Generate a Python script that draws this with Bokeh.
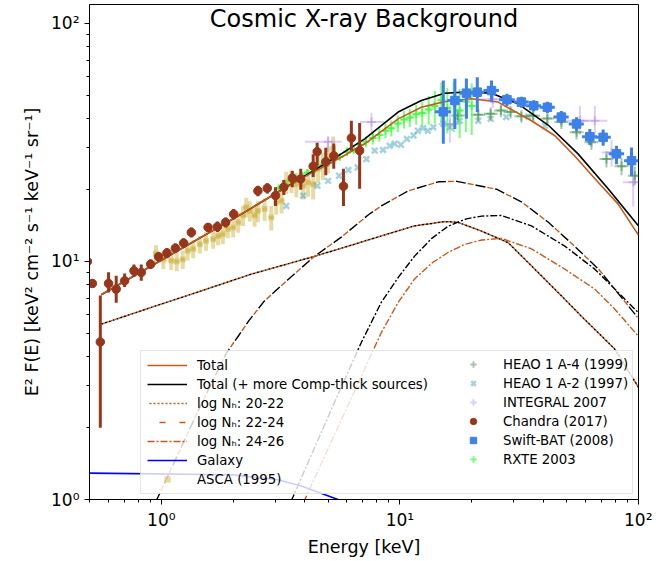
import numpy as np
from bokeh.plotting import figure
from bokeh.models import Legend, LegendItem, Label
from bokeh.embed import file_html
from bokeh.resources import INLINE

FONT = "DejaVu Sans"
X_RANGE = (0.5, 100)
Y_RANGE = (1, 120)
TITLE = "Cosmic X-ray Background"
X_LABEL = "Energy [keV]"
Y_LABEL = "E\u00b2 F(E) [keV\u00b2 cm\u207b\u00b2 s\u207b\u00b9 keV\u207b\u00b9 sr\u207b\u00b9]"
TICK_LABELS = {1: "10\u2070", 10: "10\u00b9", 100: "10\u00b2"}

# ---------------- model curves ----------------
total_E = [0.56, 2.165, 2.99, 4.12, 5.68, 7.12, 9.83, 12.3, 15.4, 19.9, 25.8, 35.6, 44.5, 53.9, 67.7, 82.2, 100]
total_F = [7.24, 15.8, 19.2, 23.1, 27.4, 31.2, 39.7, 44.4, 46.9, 48.2, 46.7, 39.0, 33.8, 27.8, 21.5, 17.4, 12.9]

totalCT_E = [0.56, 2.165, 2.99, 4.12, 5.68, 7.12, 9.83, 12.3, 15.4, 18.7, 24.2, 31.3, 41.8, 55.8, 74.6, 100]
totalCT_F = [7.24, 15.8, 19.2, 23.3, 28.3, 32.7, 42.4, 47.4, 50.9, 51.4, 50.9, 45.9, 37.4, 28.3, 20.2, 14.1]

nh2022_E = [0.56, 0.908, 1.47, 2.38, 4.38, 6.26, 8.36, 11.5, 15.4, 17.5, 22.0, 28.4, 35.6, 46.0, 57.5, 79.6, 100]
nh2022_F = [5.45, 6.41, 7.52, 8.84, 10.5, 11.7, 12.8, 14.1, 14.7, 14.6, 13.4, 12.0, 9.58, 7.41, 5.9, 4.28, 2.96]

nh2224_E = [0.8, 0.971, 1.47, 1.87, 2.10, 2.32, 2.70, 3.41, 4.38, 5.68, 7.38, 8.36, 10.85, 14.5, 17.3, 20.9,
            25.4, 32.3, 41.9, 53.9, 68.0, 99.0]
nh2224_F = [0.69, 1.03, 2.51, 4.11, 4.85, 5.61, 6.81, 8.42, 10.5, 12.65, 15.7, 17.1, 19.8, 21.6, 21.7, 20.9,
            20.1, 17.8, 14.6, 11.6, 9.28, 5.83]

nh2426CT_E = [3.0, 3.57, 5.16, 6.90, 8.36, 9.86, 11.5, 13.6, 16.0, 19.0, 22.0, 26.6, 35.6, 49.1, 65.6, 79.6, 99.7]
nh2426CT_F = [0.70, 1.03, 2.39, 4.58, 6.74, 8.59, 10.5, 12.5, 14.1, 15.1, 15.5, 15.6, 14.1, 11.6, 9.28, 7.65, 6.10]

nh2426_E = [3.4, 4.05, 8.36, 9.83, 11.5, 13.6, 15.9, 18.7, 22.0, 26.6, 35.6, 49.1, 65.6, 79.6, 99.7]
nh2426_F = [0.69, 1.03, 5.03, 6.72, 8.42, 9.84, 10.9, 11.8, 12.3, 12.5, 11.3, 9.28, 7.65, 6.30, 4.86]

galaxy_E = [0.5, 1.97, 3.08, 3.86, 5.5, 7.0]
galaxy_F = [1.29, 1.27, 1.21, 1.14, 1.0, 0.85]

# ---------------- data ----------------
asca_E = [0.95, 1.02, 1.10, 1.16, 1.23, 1.29, 1.36, 1.45, 1.54, 1.65, 1.73, 1.81, 1.90, 2.00, 2.10, 2.20, 2.27,
          2.35, 2.46, 2.54, 2.71, 2.89, 3.03, 3.19, 3.34, 3.51, 3.68, 3.93, 4.12, 4.33, 4.54, 4.76, 5.00, 5.25]
asca_F = [10.8, 10.2, 10.1, 10.0, 10.2, 11.1, 11.3, 11.8, 12.2, 12.4, 12.8, 13.0, 13.7, 13.9, 14.6, 15.6, 16.9,
          16.3, 15.6, 16.3, 16.6, 15.3, 17.7, 18.0, 21.5, 21.8, 21.1, 20.8, 21.5, 21.1, 24.5, 25.3, 26.9, 29.7]
asca_Ferr = [0.9, 0.9, 0.9, 0.9, 0.9, 1.0, 1.0, 1.0, 1.1, 1.1, 1.1, 1.2, 1.2, 1.3, 1.4, 1.5, 1.6,
             1.6, 1.6, 1.7, 1.8, 1.8, 2.0, 2.1, 2.3, 2.4, 2.5, 2.6, 2.8, 2.9, 3.1, 3.3, 3.5, 3.8]

heao_a2_E = [3.34, 3.93, 4.51, 5.00, 5.56, 6.08, 6.65, 7.24, 7.84, 8.50, 9.06, 9.51, 10.1, 10.7, 11.4, 11.9,
             12.5, 13.1, 13.8, 15.2, 16.2, 17.8, 21.3, 24.0, 27.9, 34.5, 40.5]
heao_a2_F = [17.1, 18.9, 20.8, 21.8, 22.9, 24.2, 24.8, 26.9, 29.2, 29.4, 30.6, 31.2, 30.9, 32.7, 33.8, 35.4,
             36.3, 35.4, 36.6, 37.8, 36.6, 39.0, 39.0, 39.7, 40.4, 40.6, 37.1]

heao_a4_E = [17.5, 21.3, 24.0, 26.5, 29.1, 32.3, 36.2, 41.5, 47.5, 55.0, 63.5, 73.4, 84.9, 96.5]
heao_a4_F = [41.0, 41.3, 41.7, 43.0, 42.4, 40.7, 40.9, 39.8, 38.5, 34.9, 31.7, 26.9, 25.1, 22.9]
heao_a4_Ferr = [2.6, 2.6, 2.6, 2.6, 2.6, 2.5, 2.5, 2.5, 2.5, 2.4, 2.3, 2.1, 2.1, 2.0]
heao_a4_Elo = [16.4, 19.9, 22.5, 24.8, 27.2, 30.2, 33.8, 38.8, 44.4, 51.4, 59.3, 68.6, 79.3, 90.2]
heao_a4_Ehi = [18.7, 22.8, 25.7, 28.4, 31.1, 34.6, 38.7, 44.4, 50.8, 58.9, 67.9, 78.5, 90.8, 103.3]

integral_E = [5.0, 7.6, 16.2, 24.5, 56.8, 65.6, 77.1, 95.0]
integral_F = [31.8, 38.5, 37.8, 48.0, 39.0, 39.0, 28.7, 21.5]
integral_Elo = [4.0, 6.8, 14.5, 21.0, 50.0, 58.0, 70.0, 86.0]
integral_Ehi = [5.7, 8.6, 18.0, 28.0, 62.0, 74.0, 84.0, 105.0]
integral_Flo = [28.8, 35.0, 31.5, 44.0, 34.0, 34.0, 25.0, 17.0]
integral_Fhi = [33.6, 42.0, 45.0, 52.0, 45.0, 45.0, 32.5, 26.0]

chandra_E = [0.49, 0.514, 0.555, 0.601, 0.647, 0.702, 0.768, 0.824, 0.902, 0.974, 1.056, 1.145, 1.24, 1.336,
             1.57, 1.718, 1.861, 2.01, 2.54, 2.78, 3.01, 3.26, 3.54, 3.84, 4.33, 4.50, 4.89, 5.28, 5.80, 6.26, 6.78]
chandra_F = [10.0, 8.08, 4.59, 8.08, 7.65, 8.29, 9.13, 8.99, 9.74, 10.46, 10.84, 11.37, 11.94, 13.24,
             13.9, 13.98, 14.59, 15.8, 19.8, 20.3, 18.9, 20.5, 22.4, 22.2, 25.1, 28.9, 26.2, 27.8, 20.7, 33.0, 29.2]
chandra_Flo = [9.0, 7.8, 2.0, 7.4, 6.7, 7.8, 8.6, 8.3, 9.3, 10.0, 10.3, 10.9, 11.4, 12.6,
               13.3, 13.3, 13.9, 15.0, 18.8, 19.3, 17.1, 19.0, 20.5, 20.0, 22.6, 25.3, 23.0, 24.5, 17.1, 29.2, 20.2]
chandra_Fhi = [11.0, 8.4, 7.2, 9.0, 8.7, 8.9, 9.7, 9.7, 10.2, 10.9, 11.4, 11.9, 12.5, 13.9,
               14.5, 14.7, 15.3, 16.6, 20.8, 21.3, 20.5, 22.0, 24.0, 24.5, 28.2, 31.5, 30.0, 31.3, 24.5, 39.0, 38.1]

swift_E = [15.2, 17.0, 19.0, 21.1, 24.2, 28.1, 32.3, 36.4, 41.5, 47.5, 55.0, 62.5, 71.1, 80.9, 93.5]
swift_F = [42.5, 47.4, 50.9, 51.4, 52.2, 47.8, 46.7, 45.1, 44.4, 40.4, 37.8, 33.4, 33.2, 28.3, 26.5]
swift_Flo = [31.2, 36.0, 39.7, 42.4, 46.6, 45.0, 44.2, 42.7, 42.0, 38.0, 35.3, 30.8, 30.6, 25.6, 22.9]
swift_Fhi = [57.5, 58.5, 58.5, 59.4, 57.6, 50.6, 49.2, 47.5, 46.8, 42.8, 40.3, 36.0, 35.8, 30.6, 30.1]
swift_Elo = [14.0, 15.8, 17.8, 19.8, 22.4, 26.0, 30.0, 33.8, 38.5, 44.0, 51.0, 58.0, 66.0, 75.0, 87.0]
swift_Ehi = [16.4, 18.3, 20.4, 22.6, 26.0, 30.3, 34.7, 39.0, 44.6, 51.0, 59.0, 67.0, 76.5, 87.0, 100.0]

rxte_E = [3.1, 3.3, 3.5, 3.7, 3.9, 4.1, 4.4, 4.7, 5.0, 5.3, 5.6, 6.0, 6.4, 6.8, 7.2, 7.7, 8.2, 8.7, 9.2, 9.8,
          10.4, 11.0, 11.7, 12.4, 13.2, 14.0, 14.9, 15.8, 16.8, 17.8, 18.9, 20.0]
rxte_F = [20.3, 21.0, 21.8, 22.2, 22.9, 23.6, 24.3, 25.3, 26.0, 26.9, 27.5, 28.9, 29.6, 30.9, 31.8, 33.0, 34.0,
          35.4, 36.3, 38.0, 39.5, 40.2, 41.5, 42.0, 43.5, 45.0, 47.5, 44.0, 46.0, 43.0, 47.0, 45.0]
rxte_Ferr = [0.5, 0.5, 0.6, 0.6, 0.6, 0.7, 0.7, 0.8, 0.9, 1.0, 1.0, 1.2, 1.3, 1.5, 1.7, 2.0, 2.2, 2.5, 2.8, 3.0,
             3.3, 3.6, 4.0, 5.0, 6.0, 7.0, 9.0, 9.5, 11.0, 10.0, 12.0, 11.0]

# ---------------- colours ----------------
C_ORANGE = "#c9591a"
C_BLACK = "#000000"
C_BLUE = "#0000ff"
C_ASCA = "#c9b037"
C_A2 = "#4aa8c0"
C_A4 = "#2e8b3e"
C_INTEGRAL = "#a070f0"
C_CHANDRA = "#98361c"
C_SWIFT = "#3d80e8"
C_RXTE = "#33ff33"

p = figure(x_axis_type="log", y_axis_type="log", x_range=X_RANGE, y_range=Y_RANGE,
           frame_width=549, frame_height=495, min_border_left=89, min_border_right=14,
           min_border_top=4, min_border_bottom=50,
           output_backend="svg", toolbar_location=None)
p.xgrid.visible = False
p.ygrid.visible = False
p.outline_line_color = "black"
p.outline_line_alpha = 1.0
p.outline_line_width = 1
p.background_fill_color = "white"
p.border_fill_color = "white"

for ax in (p.xaxis[0], p.yaxis[0]):
    ax.major_label_overrides = TICK_LABELS
    ax.major_label_text_font = FONT
    ax.major_label_text_font_size = "17px"
    ax.major_label_text_color = "black"
    ax.axis_label_text_font = FONT
    ax.axis_label_text_font_size = "17.5px"
    ax.axis_label_text_font_style = "normal"
    ax.axis_label_text_color = "black"
    ax.major_tick_in = 0
    ax.major_tick_out = 5
    ax.minor_tick_in = 0
    ax.minor_tick_out = 3
    ax.axis_line_color = "black"
    ax.major_tick_line_color = "black"
    ax.minor_tick_line_color = "black"
p.xaxis.axis_label = X_LABEL
p.yaxis.axis_label = Y_LABEL
p.xaxis.axis_label_standoff = 4
p.yaxis.axis_label_standoff = 6

# ---------------- data (error bars + markers) ----------------
aE = np.array(asca_E); aF = np.array(asca_F); aErr = np.array(asca_Ferr)
p.segment(aE, aF - aErr, aE, aF + aErr, line_color=C_ASCA, line_alpha=0.45, line_width=4)
p.segment(aE * 0.975, aF, aE * 1.025, aF, line_color=C_ASCA, line_alpha=0.45, line_width=3)
r_asca = p.scatter(aE, aF, marker="square", size=6, fill_color=C_ASCA, line_color=None, fill_alpha=0.45)

r_a2 = p.scatter(heao_a2_E, heao_a2_F, marker="x", size=8, line_color=C_A2, line_alpha=0.5, line_width=2.5)

a4E = np.array(heao_a4_E); a4F = np.array(heao_a4_F); a4Err = np.array(heao_a4_Ferr)
p.segment(a4E, a4F - a4Err, a4E, a4F + a4Err, line_color=C_A4, line_alpha=0.45, line_width=2)
p.segment(heao_a4_Elo, a4F, heao_a4_Ehi, a4F, line_color=C_A4, line_alpha=0.45, line_width=2)
r_a4 = p.scatter(a4E, a4F, marker="cross", size=9, line_color=C_A4, line_alpha=0.45, line_width=2)

p.segment(integral_E, integral_Flo, integral_E, integral_Fhi, line_color=C_INTEGRAL, line_alpha=0.35, line_width=2)
p.segment(integral_Elo, integral_F, integral_Ehi, integral_F, line_color=C_INTEGRAL, line_alpha=0.35, line_width=2)
r_int = p.scatter(integral_E, integral_F, marker="cross", size=9, line_color=C_INTEGRAL, line_alpha=0.35, line_width=2)

rE = np.array(rxte_E); rF = np.array(rxte_F); rErr = np.array(rxte_Ferr)
p.segment(rE, rF - rErr, rE, rF + rErr, line_color=C_RXTE, line_alpha=0.65, line_width=2)
p.segment(rE * 0.97, rF, rE * 1.03, rF, line_color=C_RXTE, line_alpha=0.65, line_width=2)
r_rxte = p.scatter(rE, rF, marker="cross", size=8, line_color=C_RXTE, line_alpha=0.65, line_width=2)

# ---------------- model lines ----------------
r_nh2022_ct = p.line(nh2022_E, nh2022_F, line_color=C_BLACK, line_width=1.5, line_dash="2 2")
r_nh2022 = p.line(nh2022_E, nh2022_F, line_color=C_ORANGE, line_width=1.5, line_dash="2 2", line_dash_offset=2)
r_nh2224_ct = p.line(nh2224_E, nh2224_F, line_color=C_BLACK, line_width=1.4, line_dash="10 10")
r_nh2224 = p.line(nh2224_E, nh2224_F, line_color=C_ORANGE, line_width=1.4, line_dash="6 14", line_dash_offset=8)
r_nh2426_ct = p.line(nh2426CT_E, nh2426CT_F, line_color=C_BLACK, line_width=1.4, line_dash="7 2 2 2")
r_nh2426 = p.line(nh2426_E, nh2426_F, line_color=C_ORANGE, line_width=1.4, line_dash="7 2 2 2")
r_gal = p.line(galaxy_E, galaxy_F, line_color=C_BLUE, line_width=1.6)
r_totct = p.line(totalCT_E, totalCT_F, line_color=C_BLACK, line_width=1.6)
r_tot = p.line(total_E, total_F, line_color=C_ORANGE, line_width=1.6)

p.segment(chandra_E, chandra_Flo, chandra_E, chandra_Fhi, line_color=C_CHANDRA, line_width=3)
r_ch = p.scatter(chandra_E, chandra_F, marker="circle", size=8.5, fill_color=C_CHANDRA, line_color=C_CHANDRA)

p.segment(swift_E, swift_Flo, swift_E, swift_Fhi, line_color=C_SWIFT, line_width=3)
p.segment(swift_Elo, swift_F, swift_Ehi, swift_F, line_color=C_SWIFT, line_width=3)
r_sw = p.scatter(swift_E, swift_F, marker="square", size=8.5, fill_color=C_SWIFT, line_color=C_SWIFT)

# ---------------- title inside the frame ----------------
title_x = float(np.sqrt(X_RANGE[0] * X_RANGE[1]))
title_y = 104.0
p.add_layout(Label(x=title_x, y=title_y, text=TITLE, text_align="center", text_baseline="middle",
                   text_font=FONT, text_font_size="24px", text_color="black"))

# ---------------- legend (two columns) ----------------
common = dict(label_text_font=FONT, label_text_font_size="13.3px", label_text_color="black",
              glyph_width=40, glyph_height=16, label_height=16, label_standoff=10,
              spacing=3, padding=6)
items_left = [
    LegendItem(label="Total", renderers=[r_tot]),
    LegendItem(label="Total (+ more Comp-thick sources)", renderers=[r_totct]),
    LegendItem(label="log N\u2095: 20-22", renderers=[r_nh2022]),
    LegendItem(label="log N\u2095: 22-24", renderers=[r_nh2224]),
    LegendItem(label="log N\u2095: 24-26", renderers=[r_nh2426]),
    LegendItem(label="Galaxy", renderers=[r_gal]),
    LegendItem(label="ASCA (1995)", renderers=[r_asca]),
]
items_right = [
    LegendItem(label="HEAO 1 A-4 (1999)", renderers=[r_a4]),
    LegendItem(label="HEAO 1 A-2 (1997)", renderers=[r_a2]),
    LegendItem(label="INTEGRAL 2007", renderers=[r_int]),
    LegendItem(label="Chandra (2017)", renderers=[r_ch]),
    LegendItem(label="Swift-BAT (2008)", renderers=[r_sw]),
    LegendItem(label="RXTE 2003", renderers=[r_rxte]),
]
legend_left = Legend(items=items_left, location="bottom_right", margin=5, label_width=429,
                     border_line_color="#cccccc", border_line_width=1,
                     background_fill_color="white", background_fill_alpha=0.8, **common)
legend_right = Legend(items=items_right, location=(364, 32), margin=0,
                      border_line_color=None, background_fill_alpha=0.0, **common)
p.add_layout(legend_left)
p.add_layout(legend_right)

open("out.html", "w").write(file_html(p, INLINE))
